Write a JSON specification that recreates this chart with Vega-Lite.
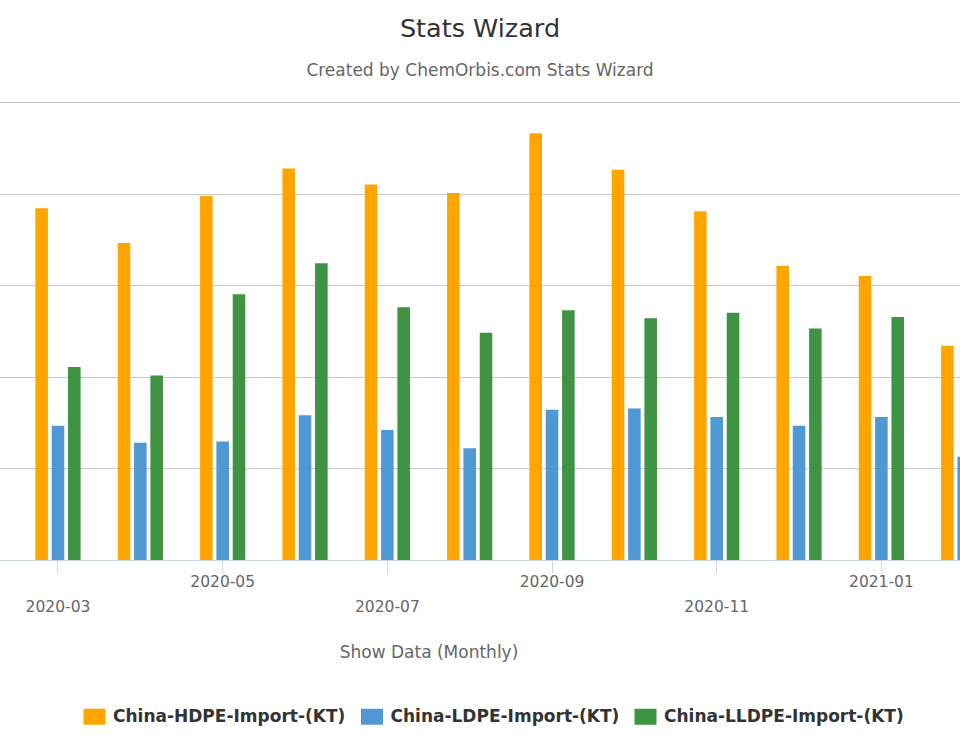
{
  "$schema": "https://vega.github.io/schema/vega-lite/v6.json",
  "width": 960,
  "height": 458,
  "autosize": {"type": "none"},
  "padding": {"left": 0, "top": 102, "right": 0, "bottom": 190},
  "background": "#ffffff",
  "title": {
    "text": "Stats Wizard",
    "subtitle": "Created by ChemOrbis.com Stats Wizard",
    "anchor": "middle",
    "frame": "group",
    "font": "DejaVu Sans",
    "fontSize": 25.5,
    "fontWeight": "normal",
    "color": "#333333",
    "subtitleFont": "DejaVu Sans",
    "subtitleFontSize": 17,
    "subtitleColor": "#666666",
    "subtitlePadding": 20.5,
    "offset": 23.5
  },
  "data": {
    "values": [
      {"month": "2020-03", "series": "China-HDPE-Import-(KT)", "value": 576},
      {"month": "2020-03", "series": "China-LDPE-Import-(KT)", "value": 220},
      {"month": "2020-03", "series": "China-LLDPE-Import-(KT)", "value": 316},
      {"month": "2020-04", "series": "China-HDPE-Import-(KT)", "value": 519},
      {"month": "2020-04", "series": "China-LDPE-Import-(KT)", "value": 192},
      {"month": "2020-04", "series": "China-LLDPE-Import-(KT)", "value": 302},
      {"month": "2020-05", "series": "China-HDPE-Import-(KT)", "value": 596},
      {"month": "2020-05", "series": "China-LDPE-Import-(KT)", "value": 194},
      {"month": "2020-05", "series": "China-LLDPE-Import-(KT)", "value": 435},
      {"month": "2020-06", "series": "China-HDPE-Import-(KT)", "value": 641},
      {"month": "2020-06", "series": "China-LDPE-Import-(KT)", "value": 237},
      {"month": "2020-06", "series": "China-LLDPE-Import-(KT)", "value": 486},
      {"month": "2020-07", "series": "China-HDPE-Import-(KT)", "value": 615},
      {"month": "2020-07", "series": "China-LDPE-Import-(KT)", "value": 213},
      {"month": "2020-07", "series": "China-LLDPE-Import-(KT)", "value": 414},
      {"month": "2020-08", "series": "China-HDPE-Import-(KT)", "value": 601},
      {"month": "2020-08", "series": "China-LDPE-Import-(KT)", "value": 183},
      {"month": "2020-08", "series": "China-LLDPE-Import-(KT)", "value": 372},
      {"month": "2020-09", "series": "China-HDPE-Import-(KT)", "value": 699},
      {"month": "2020-09", "series": "China-LDPE-Import-(KT)", "value": 246},
      {"month": "2020-09", "series": "China-LLDPE-Import-(KT)", "value": 409},
      {"month": "2020-10", "series": "China-HDPE-Import-(KT)", "value": 639},
      {"month": "2020-10", "series": "China-LDPE-Import-(KT)", "value": 248},
      {"month": "2020-10", "series": "China-LLDPE-Import-(KT)", "value": 396},
      {"month": "2020-11", "series": "China-HDPE-Import-(KT)", "value": 571},
      {"month": "2020-11", "series": "China-LDPE-Import-(KT)", "value": 234},
      {"month": "2020-11", "series": "China-LLDPE-Import-(KT)", "value": 405},
      {"month": "2020-12", "series": "China-HDPE-Import-(KT)", "value": 482},
      {"month": "2020-12", "series": "China-LDPE-Import-(KT)", "value": 220},
      {"month": "2020-12", "series": "China-LLDPE-Import-(KT)", "value": 379},
      {"month": "2021-01", "series": "China-HDPE-Import-(KT)", "value": 465},
      {"month": "2021-01", "series": "China-LDPE-Import-(KT)", "value": 234},
      {"month": "2021-01", "series": "China-LLDPE-Import-(KT)", "value": 398},
      {"month": "2021-02", "series": "China-HDPE-Import-(KT)", "value": 351},
      {"month": "2021-02", "series": "China-LDPE-Import-(KT)", "value": 169},
      {"month": "2021-02", "series": "China-LLDPE-Import-(KT)", "value": 300}
    ]
  },
  "mark": {"type": "bar", "clip": true},
  "encoding": {
    "x": {
      "field": "month",
      "type": "ordinal",
      "scale": {
        "domain": ["2020-02", "2020-03", "2020-04", "2020-05", "2020-06", "2020-07", "2020-08", "2020-09", "2020-10", "2020-11", "2020-12", "2021-01", "2021-02"],
        "range": [-65.51, 1004.9],
        "paddingInner": 0.405,
        "paddingOuter": 0.2025
      },
      "axis": {
        "values": ["2020-03", "2020-05", "2020-07", "2020-09", "2020-11", "2021-01"],
        "labelExpr": "indexof(['2020-05','2020-09','2021-01'], datum.value) >= 0 ? datum.value : ['', datum.value]",
        "labelAngle": 0,
        "labelFont": "DejaVu Sans",
        "labelFontSize": 15.5,
        "labelColor": "#666666",
        "labelLineHeight": 25,
        "labelPadding": 1.5,
        "labelOverlap": false,
        "labelBound": false,
        "labelFlush": false,
        "domainColor": "#ccd6eb",
        "domainWidth": 1,
        "tickColor": "#ccd6eb",
        "tickSize": 13,
        "tickWidth": 1,
        "grid": false,
        "title": "Show Data (Monthly)",
        "titleFont": "DejaVu Sans",
        "titleFontSize": 17,
        "titleFontWeight": "normal",
        "titleColor": "#666666",
        "titleX": 428.5,
        "titleY": 97,
        "titleBaseline": "alphabetic",
        "titleAlign": "center"
      }
    },
    "xOffset": {
      "field": "series",
      "type": "nominal",
      "scale": {"paddingInner": 0.23, "paddingOuter": 0.115}
    },
    "y": {
      "field": "value",
      "type": "quantitative",
      "scale": {"domain": [0, 750], "nice": false},
      "axis": {
        "values": [150, 300, 450, 600, 750],
        "labels": false,
        "ticks": false,
        "domain": false,
        "grid": true,
        "gridColor": "#c8c8c8",
        "gridWidth": 1.2,
        "title": null
      }
    },
    "color": {
      "field": "series",
      "type": "nominal",
      "scale": {
        "domain": ["China-HDPE-Import-(KT)", "China-LDPE-Import-(KT)", "China-LLDPE-Import-(KT)"],
        "range": ["#ffa500", "#4f98d4", "#3f9443"]
      },
      "legend": {
        "title": null,
        "orient": "none",
        "direction": "horizontal",
        "legendX": 86,
        "legendY": 606,
        "padding": 0,
        "symbolType": "M-1.375,-1H1.375V1H-1.375Z",
        "symbolSize": 256,
        "symbolStrokeWidth": 0,
        "symbolOpacity": 1,
        "labelFont": "DejaVu Sans",
        "labelFontSize": 17,
        "labelFontWeight": "bold",
        "labelColor": "#333333",
        "labelOffset": 10,
        "labelLimit": 400,
        "columnPadding": 14.5
      }
    }
  },
  "config": {
    "font": "DejaVu Sans",
    "view": {"stroke": null}
  }
}
